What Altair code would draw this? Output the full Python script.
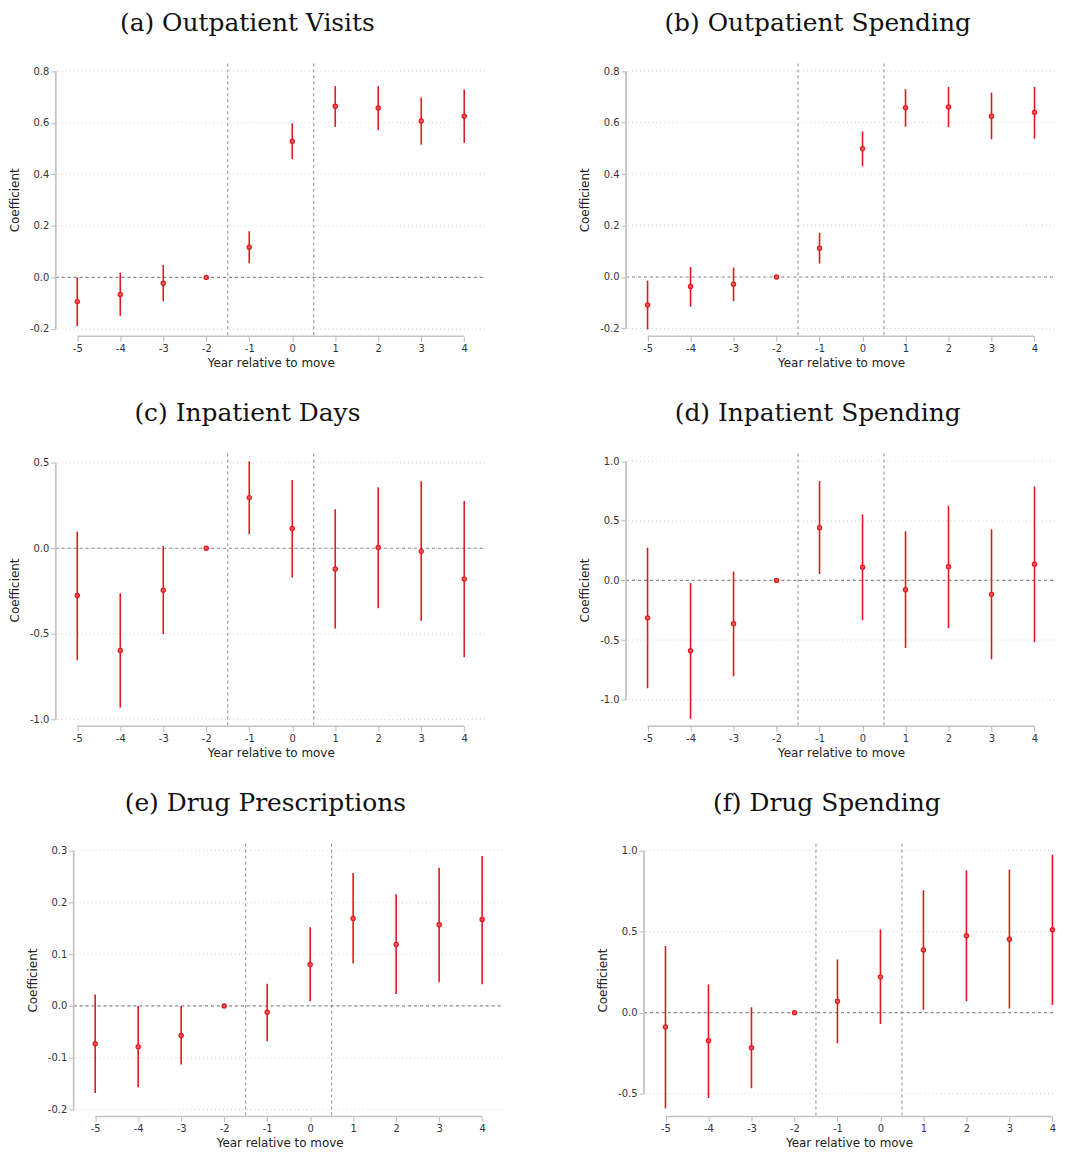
import altair as alt
import pandas as pd

years = [-5, -4, -3, -2, -1, 0, 1, 2, 3, 4]

# (a) Outpatient Visits
visits_coef = [-0.094, -0.066, -0.023, 0.0, 0.117, 0.528, 0.664, 0.657, 0.607, 0.625]
visits_lo = [-0.189, -0.149, -0.093, 0.0, 0.055, 0.459, 0.584, 0.572, 0.515, 0.522]
visits_hi = [0.0, 0.018, 0.048, 0.0, 0.179, 0.598, 0.742, 0.742, 0.698, 0.729]

# (b) Outpatient Spending
outsp_coef = [-0.109, -0.037, -0.028, 0.0, 0.112, 0.499, 0.658, 0.661, 0.625, 0.640]
outsp_lo = [-0.204, -0.115, -0.094, 0.0, 0.052, 0.430, 0.584, 0.583, 0.535, 0.537]
outsp_hi = [-0.014, 0.039, 0.037, 0.0, 0.172, 0.566, 0.730, 0.739, 0.717, 0.739]

# (c) Inpatient Days
days_coef = [-0.276, -0.597, -0.245, 0.0, 0.296, 0.115, -0.121, 0.004, -0.018, -0.179]
days_lo = [-0.654, -0.931, -0.502, 0.0, 0.082, -0.171, -0.469, -0.350, -0.424, -0.636]
days_hi = [0.097, -0.263, 0.014, 0.0, 0.508, 0.399, 0.228, 0.356, 0.391, 0.276]

# (d) Inpatient Spending
insp_coef = [-0.314, -0.590, -0.364, 0.0, 0.442, 0.111, -0.078, 0.114, -0.117, 0.136]
insp_lo = [-0.904, -1.160, -0.804, 0.0, 0.053, -0.334, -0.567, -0.401, -0.662, -0.517]
insp_hi = [0.275, -0.022, 0.075, 0.0, 0.834, 0.554, 0.412, 0.626, 0.428, 0.787]

# (e) Drug Prescriptions
rx_coef = [-0.073, -0.079, -0.057, 0.0, -0.012, 0.080, 0.169, 0.119, 0.157, 0.167]
rx_lo = [-0.168, -0.157, -0.113, 0.0, -0.068, 0.009, 0.082, 0.023, 0.046, 0.042]
rx_hi = [0.022, 0.0, 0.0, 0.0, 0.043, 0.152, 0.257, 0.216, 0.267, 0.290]

# (f) Drug Spending
drug_coef = [-0.088, -0.174, -0.217, 0.0, 0.070, 0.221, 0.387, 0.475, 0.453, 0.512]
drug_lo = [-0.592, -0.527, -0.467, 0.0, -0.189, -0.070, 0.018, 0.070, 0.025, 0.047]
drug_hi = [0.412, 0.174, 0.033, 0.0, 0.328, 0.514, 0.756, 0.879, 0.883, 0.975]

event_lines = [-1.5, 0.5]

RED = '#e3171c'
H = 274
PX = 43.2          # pixels per year on the x axis
MINUS = '\u2212'


def panel(title, coef, lo, hi, ydomain, yticks, width=432, shift=0):
    # shift: empty strip left of the y axis (the bottom row sits further right)
    df = pd.DataFrame({'year': years, 'coef': coef, 'lo': lo, 'hi': hi})
    xdom = [-5.5 - shift / PX, -5.5 + (width - shift) / PX]
    x = alt.X('year:Q', scale=alt.Scale(domain=xdom, nice=False, zero=False),
              axis=alt.Axis(values=years, title='Year relative to move', grid=False,
                            labelExpr="'' + datum.value"))
    ysc = alt.Scale(domain=ydomain, nice=False, zero=False)
    yax = alt.Axis(values=yticks, title='Coefficient', grid=False, offset=-shift,
                   labelExpr=f"replace(format(datum.value, '.1f'), '{MINUS}', '-')")
    y = alt.Y('coef:Q', scale=ysc, axis=yax)

    grid = alt.Chart(pd.DataFrame({'coef': yticks})).mark_rule(
        color='#d0d0d0', strokeWidth=1, strokeDash=[1, 3]).encode(
        y=y, x=alt.value(shift + 2), x2=alt.value(width))

    # hand-drawn axis lines that only span the tick range (Stata style)
    xline = alt.Chart(pd.DataFrame({'year': [years[0]], 'year2': [years[-1]]})).mark_rule(
        color='#c4c4c4', strokeWidth=1.5).encode(x=x, x2='year2:Q', y=alt.value(H))
    yline = alt.Chart(pd.DataFrame({'coef': [yticks[0]], 'coef2': [yticks[-1]]})).mark_rule(
        color='#c4c4c4', strokeWidth=1.8).encode(y=y, y2='coef2:Q', x=alt.value(shift))

    vlines = alt.Chart(pd.DataFrame({'year': event_lines})).mark_rule(
        color='#8a8a8a', strokeWidth=1, strokeDash=[3, 3]).encode(x=x)
    zero = alt.Chart(pd.DataFrame({'coef': [0.0]})).mark_rule(
        color='#8a8a8a', strokeWidth=1.2, strokeDash=[3, 3]).encode(
        y=y, x=alt.value(shift), x2=alt.value(width))

    bars = alt.Chart(df).mark_rule(color=RED, strokeWidth=1.6).encode(
        x=x, y=alt.Y('lo:Q', scale=ysc, axis=yax), y2='hi:Q')
    pts = alt.Chart(df).mark_point(filled=True, fill='#f05a5a', stroke=RED,
                                   strokeWidth=1.2, size=18, opacity=1).encode(x=x, y=y)

    return alt.layer(grid, vlines, zero, xline, yline, bars, pts).properties(
        width=width, height=H, title=alt.TitleParams(title))


pa = panel('(a) Outpatient Visits', visits_coef, visits_lo, visits_hi,
           [-0.228, 0.83], [-0.2, 0.0, 0.2, 0.4, 0.6, 0.8])
pb = panel('(b) Outpatient Spending', outsp_coef, outsp_lo, outsp_hi,
           [-0.23, 0.83], [-0.2, 0.0, 0.2, 0.4, 0.6, 0.8])
pc = panel('(c) Inpatient Days', days_coef, days_lo, days_hi,
           [-1.04, 0.553], [-1.0, -0.5, 0.0, 0.5])
pd_ = panel('(d) Inpatient Spending', insp_coef, insp_lo, insp_hi,
            [-1.223, 1.063], [-1.0, -0.5, 0.0, 0.5, 1.0])
pe = panel('(e) Drug Prescriptions', rx_coef, rx_lo, rx_hi,
           [-0.2135, 0.3135], [-0.2, -0.1, 0.0, 0.1, 0.2, 0.3], width=450, shift=18)
# the last panel runs off the right edge of the page in the original
pf = panel('(f) Drug Spending', drug_coef, drug_lo, drug_hi,
           [-0.641, 1.043], [-0.5, 0.0, 0.5, 1.0], width=412)

row1 = alt.hconcat(pa, pb, spacing=92)
row2 = alt.hconcat(pc, pd_, spacing=92)
row3 = alt.hconcat(pe, pf, spacing=92)

chart = alt.vconcat(row1, row2, row3, spacing=33, padding=0).configure_view(
    stroke=None
).configure_axis(
    labelFont='DejaVu Sans', labelFontSize=10, labelColor='#333333', labelPadding=2,
    titleFont='DejaVu Sans', titleFontSize=12, titleFontWeight='normal', titleColor='#222222',
    titlePadding=4, tickColor='#b8b8b8', tickSize=5, domain=False
).configure_axisY(
    titlePadding=8
).configure_title(
    font='DejaVu Serif', fontSize=25, fontWeight='normal', color='#111111',
    anchor='middle', frame='bounds', offset=27
)

chart.save('out.html', embed_options={'renderer': 'svg', 'actions': False})
